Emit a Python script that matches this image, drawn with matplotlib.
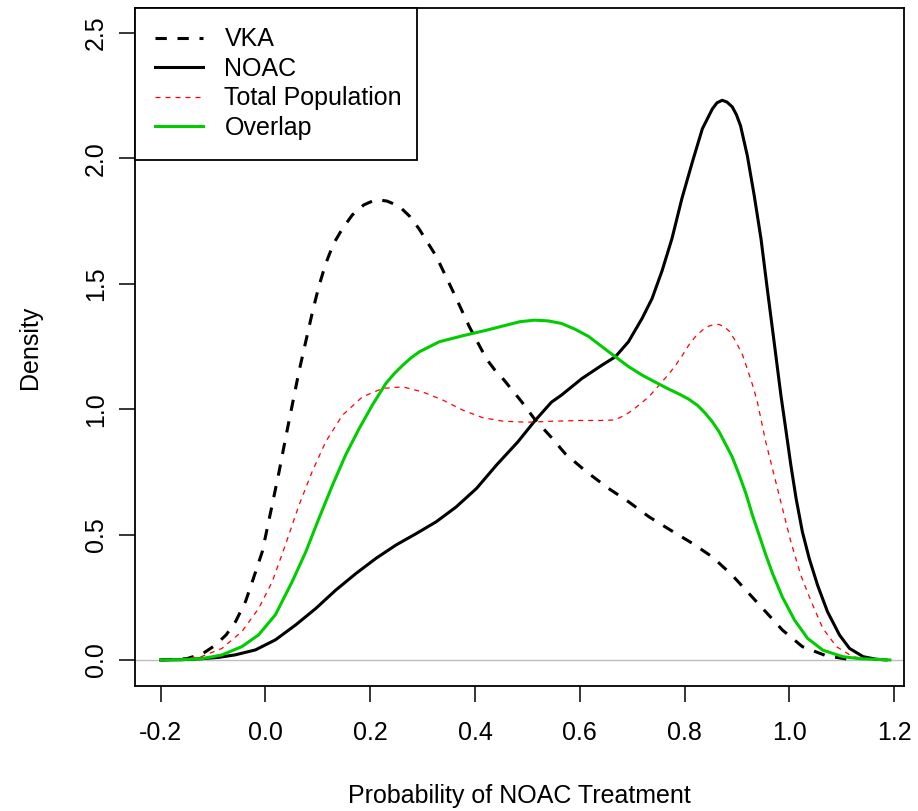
import matplotlib
matplotlib.use("Agg")
import matplotlib.pyplot as plt

plt.rcParams['font.family'] = ['Liberation Sans', 'DejaVu Sans']

# density curves
vka_x = [-0.2, -0.15, -0.12, -0.096, -0.075, -0.057, -0.038, -0.023, -0.006, 0.010,
         0.026, 0.038, 0.051, 0.064, 0.077, 0.090, 0.102, 0.115, 0.130, 0.147,
         0.166, 0.188, 0.211, 0.232, 0.255, 0.275, 0.293, 0.326, 0.358, 0.389,
         0.422, 0.438, 0.454, 0.489, 0.514, 0.546, 0.572, 0.613, 0.655, 0.693,
         0.732, 0.773, 0.815, 0.853, 0.891, 0.923, 0.955, 0.987, 1.025, 1.070,
         1.12]
vka_y = [0.0, 0.005, 0.025, 0.058, 0.10, 0.153, 0.233, 0.325, 0.432, 0.59,
         0.75, 0.88, 1.015, 1.15, 1.27, 1.39, 1.49, 1.58, 1.66, 1.72,
         1.775, 1.815, 1.836, 1.83, 1.81, 1.77, 1.72, 1.61, 1.47, 1.33,
         1.20, 1.156, 1.12, 1.03, 0.96, 0.887, 0.823, 0.75, 0.684, 0.631,
         0.571, 0.518, 0.465, 0.411, 0.338, 0.265, 0.192, 0.119, 0.053, 0.017,
         0.0]

noac_x = [-0.2, -0.16, -0.121, -0.09, -0.058, -0.019, 0.019, 0.058, 0.096, 0.134,
          0.173, 0.211, 0.249, 0.288, 0.326, 0.364, 0.403, 0.441, 0.482, 0.514,
          0.546, 0.565, 0.604, 0.642, 0.668, 0.693, 0.719, 0.738, 0.757, 0.776,
          0.795, 0.815, 0.834, 0.853, 0.862, 0.872, 0.881, 0.891, 0.899, 0.907,
          0.920, 0.933, 0.946, 0.958, 0.971, 0.984, 0.994, 1.003, 1.013, 1.025,
          1.038, 1.054, 1.073, 1.096, 1.115, 1.141, 1.165, 1.185]
noac_y = [0.0, 0.001, 0.005, 0.01, 0.02, 0.04, 0.08, 0.14, 0.205, 0.278,
          0.345, 0.405, 0.458, 0.504, 0.551, 0.61, 0.684, 0.777, 0.87, 0.953,
          1.028, 1.056, 1.122, 1.175, 1.209, 1.269, 1.362, 1.441, 1.551, 1.68,
          1.84, 1.986, 2.118, 2.197, 2.222, 2.232, 2.225, 2.206, 2.175, 2.13,
          2.01, 1.853, 1.68, 1.48, 1.269, 1.056, 0.91, 0.777, 0.644, 0.511,
          0.405, 0.298, 0.192, 0.099, 0.046, 0.013, 0.003, 0.0]

total_x = [-0.2, -0.16, -0.121, -0.083, -0.045, -0.013, 0.013, 0.038, 0.064, 0.089,
           0.115, 0.147, 0.185, 0.224, 0.262, 0.300, 0.339, 0.377, 0.415, 0.454,
           0.50, 0.55, 0.60, 0.64, 0.667, 0.680, 0.693, 0.706, 0.719, 0.732,
           0.745, 0.757, 0.770, 0.783, 0.796, 0.808, 0.821, 0.834, 0.847, 0.859,
           0.866, 0.875, 0.885, 0.898, 0.911, 0.920, 0.930, 0.939, 0.955, 0.971,
           0.987, 1.003, 1.022, 1.042, 1.064, 1.090, 1.121, 1.150, 1.185]
total_y = [0.0, 0.003, 0.014, 0.046, 0.113, 0.205, 0.312, 0.458, 0.617, 0.75,
           0.87, 0.976, 1.049, 1.083, 1.089, 1.069, 1.036, 0.996, 0.966, 0.952,
           0.948, 0.952, 0.955, 0.955, 0.957, 0.97, 0.985, 1.005, 1.027, 1.05,
           1.08, 1.109, 1.14, 1.175, 1.215, 1.255, 1.29, 1.315, 1.332, 1.338,
           1.338, 1.33, 1.312, 1.27, 1.215, 1.16, 1.096, 1.03, 0.87, 0.737,
           0.604, 0.471, 0.338, 0.232, 0.126, 0.053, 0.013, 0.003, 0.0]

overlap_x = [-0.2, -0.16, -0.121, -0.083, -0.045, -0.013, 0.019, 0.051, 0.077, 0.102,
             0.128, 0.153, 0.179, 0.204, 0.230, 0.246, 0.262, 0.278, 0.294, 0.332,
             0.377, 0.422, 0.45, 0.486, 0.514, 0.540, 0.565, 0.590, 0.617, 0.642,
             0.668, 0.693, 0.719, 0.745, 0.770, 0.790, 0.808, 0.825, 0.840, 0.853,
             0.866, 0.878, 0.891, 0.904, 0.917, 0.930, 0.943, 0.955, 0.968, 0.987,
             1.010, 1.035, 1.064, 1.102, 1.134, 1.192]
overlap_y = [0.0, 0.001, 0.005, 0.02, 0.053, 0.1, 0.18, 0.312, 0.431, 0.564,
             0.697, 0.817, 0.923, 1.016, 1.103, 1.142, 1.175, 1.205, 1.229, 1.269,
             1.293, 1.315, 1.33, 1.349, 1.355, 1.352, 1.342, 1.32, 1.29, 1.25,
             1.209, 1.17, 1.136, 1.107, 1.08, 1.06, 1.04, 1.015, 0.983, 0.95,
             0.91, 0.862, 0.81, 0.74, 0.665, 0.575, 0.495, 0.42, 0.345, 0.25,
             0.159, 0.086, 0.039, 0.013, 0.005, 0.0]

x_ticks = [-0.2, 0.0, 0.2, 0.4, 0.6, 0.8, 1.0, 1.2]
x_labels = ["-0.2", "0.0", "0.2", "0.4", "0.6", "0.8", "1.0", "1.2"]
y_ticks = [0.0, 0.5, 1.0, 1.5, 2.0, 2.5]
y_labels = ["0.0", "0.5", "1.0", "1.5", "2.0", "2.5"]

FS = 18

fig = plt.figure(figsize=(9.18, 8.11), dpi=100)
ax = fig.add_axes([135 / 918, 1 - 686 / 811, (904 - 135) / 918, (686 - 8) / 811])

ax.axhline(0, color='#BEBEBE', lw=1.0, zorder=1)
ax.plot(vka_x, vka_y, color='black', lw=2.2, dashes=(3.7, 3.5), label='VKA', zorder=2)
ax.plot(noac_x, noac_y, color='black', lw=2.2, label='NOAC', zorder=3)
ax.plot(total_x, total_y, color='red', lw=0.9, dashes=(4, 4), label='Total Population', zorder=4)
ax.plot(overlap_x, overlap_y, color='#00CD00', lw=2.2, label='Overlap', zorder=5)

ax.set_xlim(-0.249, 1.219)
ax.set_ylim(-0.104, 2.60)

ax.set_xticks(x_ticks)
ax.set_xticklabels(x_labels)
ax.set_yticks(y_ticks)
ax.set_yticklabels(y_labels, rotation=90, va='center')
ax.tick_params(direction='out', length=11.5, width=1.1, labelsize=FS, color='black')
ax.tick_params(axis='x', pad=13.5)
ax.tick_params(axis='y', pad=8)

for sp in ax.spines.values():
    sp.set_linewidth(1.3)
    sp.set_color('black')

ax.set_xlabel('Probability of NOAC Treatment', fontsize=FS, labelpad=28)
ax.set_ylabel('Density', fontsize=FS, labelpad=30)

leg = ax.legend(loc='upper left', bbox_to_anchor=(0, 1 - 152 / 678, 282 / 769, 152 / 678),
                mode='expand', borderaxespad=0, fontsize=FS, handlelength=1.95,
                handletextpad=0.85, borderpad=0.78, labelspacing=0.22, fancybox=False,
                frameon=True, edgecolor='black', framealpha=1)
leg.get_frame().set_linewidth(1.3)

fig.savefig('out.png', dpi=100)
